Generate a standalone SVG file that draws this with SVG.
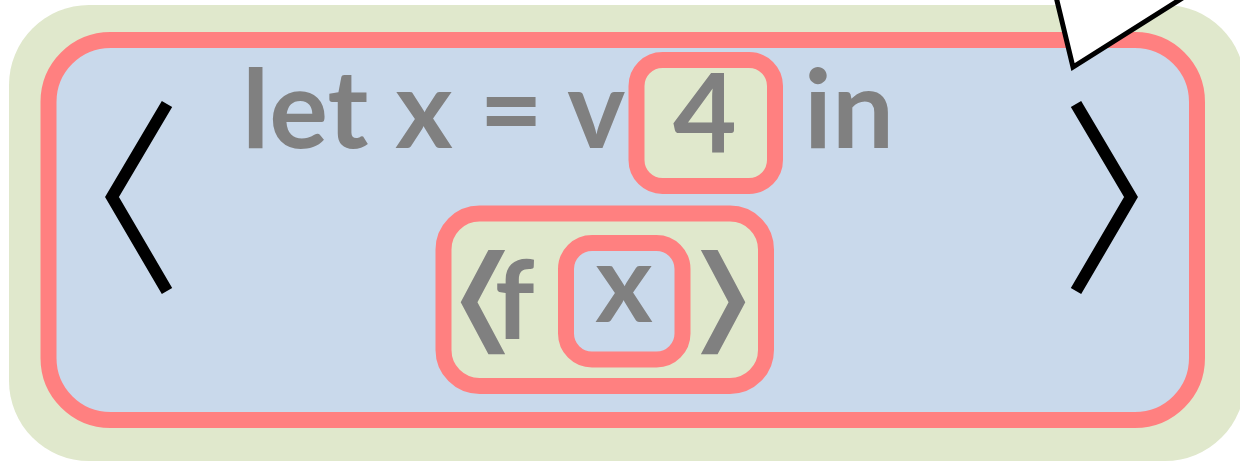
<svg xmlns="http://www.w3.org/2000/svg" width="1240" height="462" viewBox="0 0 1240 462">
  <style>
    .red { stroke: #FF8080; stroke-width: 16; }
    .blue { fill: #C9D9EB; }
    .green { fill: #E0E8CC; }
    .t { font-family: Lato, "Open Sans", "Liberation Sans", sans-serif; font-weight: bold; font-size: 110px; fill: #808080; }
    .br { fill: none; stroke: #000000; stroke-width: 12; stroke-linejoin: miter; stroke-linecap: butt; }
    .gb { font-family: "DejaVu Sans", sans-serif; font-size: 117px; fill: #808080; }
  </style>
  <g id="outer">
    <rect x="9" y="5" width="1236" height="456" rx="80" ry="80" class="green"/>
  </g>
  <g id="config">
    <rect x="48.5" y="40" width="1148.5" height="380" rx="62" ry="62" class="blue red"/>
    <polyline class="br" points="167,104 112,197 167,291"/>
    <polyline class="br" points="1076,104 1131,197 1076,291"/>
  </g>
  <g id="letline">
    <text class="t" x="242" y="148">let x = v</text>
    <text class="t" x="804" y="148">in</text>
  </g>
  <g id="val4">
    <rect x="636.5" y="60" width="138.5" height="126" rx="26" ry="26" class="green red"/>
    <text class="t" x="705" y="152" text-anchor="middle">4</text>
  </g>
  <g id="app">
    <rect x="443.5" y="213.5" width="322.5" height="172.5" rx="36" ry="36" class="green red"/>
    <text class="gb" transform="translate(482,339) scale(1.72,1)" x="0" y="0" text-anchor="middle">⟨</text>
    <text class="t" x="495" y="339">f</text>
    <text class="gb" transform="translate(724,339) scale(1.72,1)" x="0" y="0" text-anchor="middle">⟩</text>
  </g>
  <g id="varx">
    <rect x="566" y="243" width="116.5" height="116.5" rx="26" ry="26" class="blue red"/>
    <text class="t" x="624" y="322" text-anchor="middle">x</text>
  </g>
  <g id="callout">
    <polygon points="1052,-20 1073,67 1211,-20" fill="#FFFFFF" stroke="#000000" stroke-width="5" stroke-linejoin="miter"/>
  </g>
</svg>
